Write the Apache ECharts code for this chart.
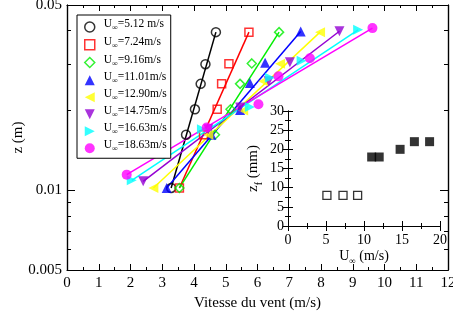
<!DOCTYPE html>
<html><head><meta charset="utf-8">
<script src="https://cdn.jsdelivr.net/npm/echarts@6/dist/echarts.min.js"></script>
<style>html,body{margin:0;padding:0;background:#fff}#c{width:453px;height:322px}</style>
</head><body><div id="c"></div>
<script>
// ---- data ----
const speedLabels = ['5.12 m/s','7.24m/s','9.16m/s','11.01m/s','12.90m/s','14.75m/s','16.63m/s','18.63m/s'];
const velS1 = [3.28, 3.75, 4.03, 4.21, 4.36, 4.69];
const zS1   = [0.0102, 0.0162, 0.0202, 0.0252, 0.0299, 0.0395];
const velS2 = [3.54, 4.30, 4.73, 4.87, 5.10, 5.73];
const zS2   = [0.0102, 0.0162, 0.0202, 0.0252, 0.0300, 0.0395];
const velS3 = [3.54, 4.66, 5.15, 5.45, 5.82, 6.68];
const zS3   = [0.0102, 0.0162, 0.0202, 0.0252, 0.0301, 0.0395];
const velS4 = [3.14, 4.55, 5.45, 5.76, 6.24, 7.36];
const zS4   = [0.0102, 0.0162, 0.0201, 0.0254, 0.0303, 0.0397];
const velS5 = [2.72, 4.45, 5.55, 6.18, 6.71, 7.97];
const zS5   = [0.0102, 0.0162, 0.0200, 0.0258, 0.0300, 0.0395];
const velS6 = [2.40, 4.45, 5.45, 6.35, 7.02, 8.58];
const zS6   = [0.0108, 0.0170, 0.0205, 0.0258, 0.0304, 0.0398];
const velS7 = [2.04, 4.25, 5.76, 6.39, 7.39, 9.17];
const zS7   = [0.0109, 0.0170, 0.0206, 0.0266, 0.0308, 0.0403];
const velS8 = [1.88, 4.40, 6.03, 6.66, 7.65, 9.62];
const zS8   = [0.01145, 0.01726, 0.0211, 0.0269, 0.0315, 0.0409];
// fitted lines: [start, end] velocity and height
const fitVel = [[3.28,4.69],[3.54,5.73],[3.54,6.68],[3.14,7.36],[2.72,7.97],[2.40,8.58],[2.04,9.17],[1.88,9.62]];
const fitZ   = [[0.0102,0.0395],[0.0102,0.0395],[0.0102,0.0395],[0.0102,0.0397],[0.0102,0.0395],[0.0108,0.0398],[0.0109,0.0403],[0.01145,0.0409]];
// inset
const insetU  = [5.12, 7.24, 9.16];
const insetZ  = [8, 8, 8];
const insetU2 = [11.01, 12.0, 14.75, 16.63, 18.63];
const insetZ2 = [18, 18, 20, 22, 22];
// ticks
const yLabelValues = [0.005, 0.01, 0.05];
const yLabelTexts  = ['0.005', '0.01', '0.05'];
const yMajorTicks  = [0.005, 0.01, 0.05];
const yMinorTicks  = [0.006, 0.007, 0.008, 0.009, 0.02, 0.03, 0.04];

// ---- style ----
const FONT = 'Liberation Serif';
const colors = ['#000000','#ff0000','#00ee00','#0000ff','#ffff00','#9400d3','#00ffff','#ff00ff'];
const symbols = ['circle','rect','diamond','triangle','path://M0,5L10,0L10,10Z','path://M0,0L10,0L5,10Z','path://M10,5L0,0L0,10Z','circle'];
const hollow = [true,true,true,false,false,false,false,false];
const sizes = [9,8,9,10,10,10,10,10];
const vels = [velS1,velS2,velS3,velS4,velS5,velS6,velS7,velS8];
const zs = [zS1,zS2,zS3,zS4,zS5,zS6,zS7,zS8];
const names = speedLabels.map(s => 'U∞=' + s);

const richTxt = {
  f: {fontFamily: FONT, fontSize: 11.5, color: '#000', lineHeight: 10, padding: [0,0,2,4], verticalAlign: 'bottom'},
  u: {fontFamily: FONT, fontSize: 11.5, color: '#000', lineHeight: 10, padding: [0,0,2,0], verticalAlign: 'bottom'},
  s: {fontFamily: FONT, fontSize: 8, color: '#000', lineHeight: 7, verticalAlign: 'bottom'}
};

function itemStyleFor(i) {
  return hollow[i]
    ? {color: 'rgba(0,0,0,0)', borderColor: colors[i], borderWidth: 1.5}
    : {color: colors[i], borderWidth: 0};
}

const series = [];
for (let i = 0; i < 8; i++) {
  series.push({
    name: 'fit' + i, type: 'line', xAxisIndex: 0, yAxisIndex: 0,
    data: [[fitVel[i][0], fitZ[i][0]], [fitVel[i][1], fitZ[i][1]]],
    showSymbol: false, symbol: 'none', silent: true,
    lineStyle: {color: colors[i], width: 1.5}, z: 2
  });
}
for (let i = 0; i < 8; i++) {
  series.push({
    name: names[i], type: 'scatter', xAxisIndex: 0, yAxisIndex: 0,
    data: vels[i].map((v, k) => [v, zs[i][k]]),
    symbol: symbols[i], symbolSize: sizes[i],
    itemStyle: itemStyleFor(i), z: 3
  });
}
series.push({
  name: 'open', type: 'scatter', xAxisIndex: 2, yAxisIndex: 4, zlevel: 1,
  data: insetU.map((u, k) => [u, insetZ[k]]), symbol: 'rect', symbolSize: 8,
  itemStyle: {color: '#fff', borderColor: '#000', borderWidth: 1.3}
});
series.push({
  name: 'filled', type: 'scatter', xAxisIndex: 2, yAxisIndex: 4, zlevel: 1,
  data: insetU2.map((u, k) => [u, insetZ2[k]]), symbol: 'rect', symbolSize: 9,
  itemStyle: {color: '#000'}
});

const axLine = {show: true, lineStyle: {color: '#000', width: 1.2}};
const lbl = {fontFamily: FONT, fontSize: 15, color: '#000'};

function mainX(pos, showLabel) {
  return {
    type: 'value', gridIndex: 0, position: pos, min: 0, max: 12, interval: 1,
    axisLine: axLine, splitLine: {show: false},
    axisTick: {show: true, inside: true, length: 6, lineStyle: {color: '#000'}},
    minorTick: {show: true, splitNumber: 2, length: 3, lineStyle: {color: '#000'}},
    axisLabel: showLabel ? Object.assign({margin: 6, showMaxLabel: true}, lbl) : {show: false},
    name: showLabel ? 'Vitesse du vent (m/s)' : '', nameLocation: 'middle', nameGap: 26, nameMoveOverlap: false,
    nameTextStyle: {fontFamily: FONT, fontSize: 15, color: '#000'}
  };
}
function mainY(pos, major, showLabel) {
  return {
    type: 'log', logBase: 10, gridIndex: 0, position: pos, min: 0.005, max: 0.05,
    axisLine: axLine, splitLine: {show: false}, minorTick: {show: false},
    axisTick: {show: true, inside: true, length: major ? 8 : 4,
      customValues: major ? yMajorTicks : yMinorTicks, lineStyle: {color: '#000'}},
    axisLabel: showLabel ? Object.assign({margin: 5, customValues: yLabelValues,
      formatter: v => { const k = yLabelValues.findIndex(t => Math.abs(t - v) / t < 1e-6); return k >= 0 ? yLabelTexts[k] : ''; }}, lbl)
      : {show: false},
    name: showLabel ? 'z (m)' : '', nameLocation: 'middle', nameGap: 41, nameRotate: 90, nameMoveOverlap: false,
    nameTextStyle: {fontFamily: FONT, fontSize: 15, color: '#000'}
  };
}
const insLbl = {fontFamily: FONT, fontSize: 14, color: '#000'};
function insetX(pos, showLabel) {
  return {
    type: 'value', gridIndex: 1, position: pos, min: 0, max: 20, interval: 5, zlevel: 1,
    axisLine: {show: true, lineStyle: {color: '#000', width: 1}}, splitLine: {show: false},
    axisTick: {show: true, inside: true, length: 5, lineStyle: {color: '#000'}},
    minorTick: {show: true, splitNumber: 2, length: 3, lineStyle: {color: '#000'}},
    axisLabel: showLabel ? Object.assign({margin: 7}, insLbl) : {show: false},
    name: showLabel ? '{u|U}{s|∞}{u| (m/s)}' : '', nameLocation: 'middle', nameGap: 28, nameMoveOverlap: false,
    nameTextStyle: {rich: {
      u: {fontFamily: FONT, fontSize: 14, color: '#000', lineHeight: 12, padding: [0,0,3,0], verticalAlign: 'bottom'},
      s: {fontFamily: FONT, fontSize: 9, color: '#000', lineHeight: 8, verticalAlign: 'bottom'}}}
  };
}
function insetY(pos, showLabel) {
  return {
    type: 'value', gridIndex: 1, position: pos, min: 0, max: 30, interval: 5, zlevel: 1,
    axisLine: {show: true, lineStyle: {color: '#000', width: 1}}, splitLine: {show: false},
    axisTick: {show: true, inside: true, length: 5, lineStyle: {color: '#000'}},
    minorTick: {show: true, splitNumber: 2, length: 3, lineStyle: {color: '#000'}},
    axisLabel: showLabel ? Object.assign({margin: 4}, insLbl) : {show: false},
    name: showLabel ? '{u|z}{s|f}{u| (mm)}' : '', nameLocation: 'middle', nameGap: 24, nameRotate: 90, nameMoveOverlap: false,
    nameTextStyle: {rich: {
      u: {fontFamily: FONT, fontSize: 15, color: '#000', lineHeight: 12, padding: [0,0,3,0], verticalAlign: 'bottom'},
      s: {fontFamily: FONT, fontSize: 10, color: '#000', lineHeight: 8, verticalAlign: 'bottom'}}}
  };
}

const option = {
  animation: false,
  backgroundColor: '#fff',
  grid: [
    {left: 67, right: 5, top: 5, bottom: 52, show: false, outerBoundsMode: 'none', containLabel: false},
    {left: 288, right: 13, top: 111, bottom: 96, show: true, backgroundColor: '#fff', borderWidth: 0, zlevel: 1, outerBoundsMode: 'none', containLabel: false}
  ],
  legend: {
    show: true, orient: 'vertical', left: 77, top: 15, padding: [3, 4, 5, 7],
    itemWidth: 10, itemHeight: 10, itemGap: 3, selectedMode: false,
    borderColor: '#000', borderWidth: 1, backgroundColor: '#fff',
    data: names.map((n, i) => ({name: n, icon: symbols[i], itemStyle: itemStyleFor(i)})),
    formatter: n => '{f|U}{s|∞}{u|' + n.slice(2) + '}',
    textStyle: {fontFamily: FONT, fontSize: 11.5, color: '#000', rich: richTxt}
  },
  xAxis: [mainX('bottom', true), mainX('top', false), insetX('bottom', true), insetX('top', false)],
  yAxis: [mainY('left', true, true), mainY('left', false, false), mainY('right', true, false), mainY('right', false, false),
          insetY('left', true), insetY('right', false)],
  series: series
};
const chart = echarts.init(document.getElementById('c'), null, {renderer: 'canvas'});
chart.setOption(option);
</script></body></html>
